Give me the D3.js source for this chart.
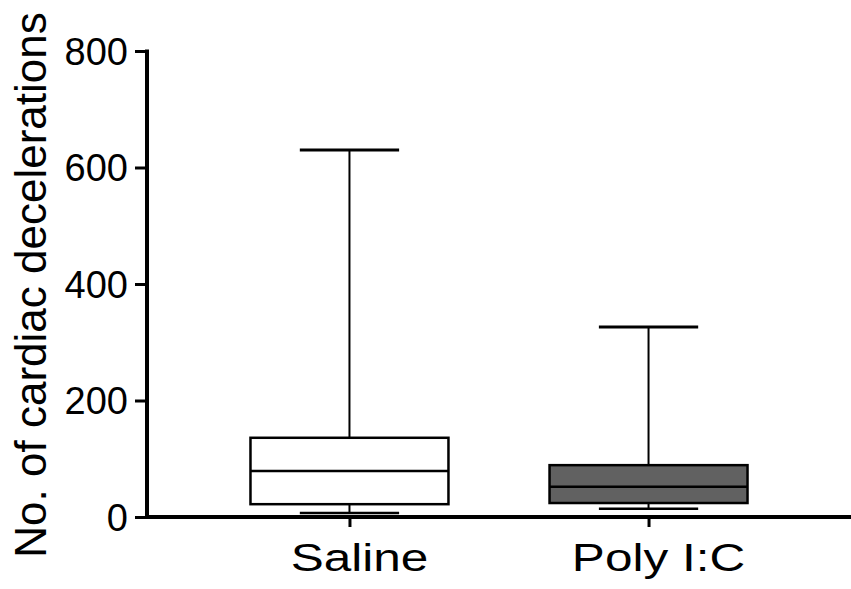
<!DOCTYPE html>
<html><head><meta charset="utf-8">
<script src="https://cdn.jsdelivr.net/npm/d3@7"></script>
<style>body{margin:0;background:#fff}svg{display:block}text{font-family:Arial,"Liberation Sans",sans-serif;fill:#000}</style>
</head><body>
<script>
const categories = ["Saline", "Poly I:C"];
const mins = [7, 14];
const q1s = [22, 24];
const medians = [79, 52];
const q3s = [136, 89];
const maxs = [630, 326];
const fills = ["#ffffff", "#616161"];
const yTicks = [0, 200, 400, 600, 800];
const yTitle = "No. of cardiac decelerations";

const W = 851, H = 589;
const svg = d3.select("body").append("svg").attr("width", W).attr("height", H);
const y = d3.scaleLinear().domain([0, 800]).range([517, 51]);
const x = d3.scalePoint().domain(categories).range([147, 851]).padding(0.677);
const step = x.step();
const boxW = step * 0.662, capW = step * 0.332;

// boxes
categories.forEach((c, i) => {
  const cx = x(c);
  const g = svg.append("g");
  g.append("line").attr("x1", cx).attr("x2", cx).attr("y1", y(maxs[i])).attr("y2", y(q3s[i])).attr("stroke", "#000").attr("stroke-width", 2);
  g.append("line").attr("x1", cx).attr("x2", cx).attr("y1", y(q1s[i])).attr("y2", y(mins[i])).attr("stroke", "#000").attr("stroke-width", 2);
  g.append("line").attr("x1", cx - capW / 2).attr("x2", cx + capW / 2).attr("y1", y(maxs[i])).attr("y2", y(maxs[i])).attr("stroke", "#000").attr("stroke-width", 3);
  g.append("line").attr("x1", cx - capW / 2).attr("x2", cx + capW / 2).attr("y1", y(mins[i])).attr("y2", y(mins[i])).attr("stroke", "#000").attr("stroke-width", 2.5);
  g.append("rect").attr("x", cx - boxW / 2).attr("width", boxW).attr("y", y(q3s[i])).attr("height", y(q1s[i]) - y(q3s[i]))
    .attr("fill", fills[i]).attr("stroke", "#000").attr("stroke-width", 2.5);
  g.append("line").attr("x1", cx - boxW / 2).attr("x2", cx + boxW / 2).attr("y1", y(medians[i])).attr("y2", y(medians[i])).attr("stroke", "#000").attr("stroke-width", 2.5);
});

// y axis
const ya = svg.append("g").attr("transform", "translate(147,0)")
  .call(d3.axisLeft(y).tickValues(yTicks).tickSize(12).tickPadding(7).tickFormat(d3.format("d")));
ya.select(".domain").attr("stroke", "#000").attr("stroke-width", 4).attr("d", `M0,${y(800)-1.5}V${y(0)+2}`);
ya.selectAll(".tick line").attr("stroke", "#000").attr("stroke-width", 3);
ya.selectAll(".tick text").attr("font-family", "Arial, 'Liberation Sans', sans-serif")
  .attr("font-size", 38).attr("fill", "#000").attr("dy", "0.35em");

// x axis
const xa = svg.append("g").attr("transform", "translate(0,517)")
  .call(d3.axisBottom(x).tickSize(10).tickFormat(""));
xa.select(".domain").attr("stroke", "#000").attr("stroke-width", 4).attr("d", "M145,0H851");
xa.selectAll(".tick line").attr("stroke", "#000").attr("stroke-width", 3);
categories.forEach(c => {
  svg.append("g").attr("transform", `translate(${x(c) + 10},571) scale(1.27,1)`)
    .append("text").attr("text-anchor", "middle").attr("font-size", 39).text(c);
});

// y title
svg.append("g").attr("transform", `translate(46,${(13 + 557) / 2}) rotate(-90)`)
  .append("text").attr("text-anchor", "middle").attr("font-size", 44).text(yTitle);
</script>
</body></html>
